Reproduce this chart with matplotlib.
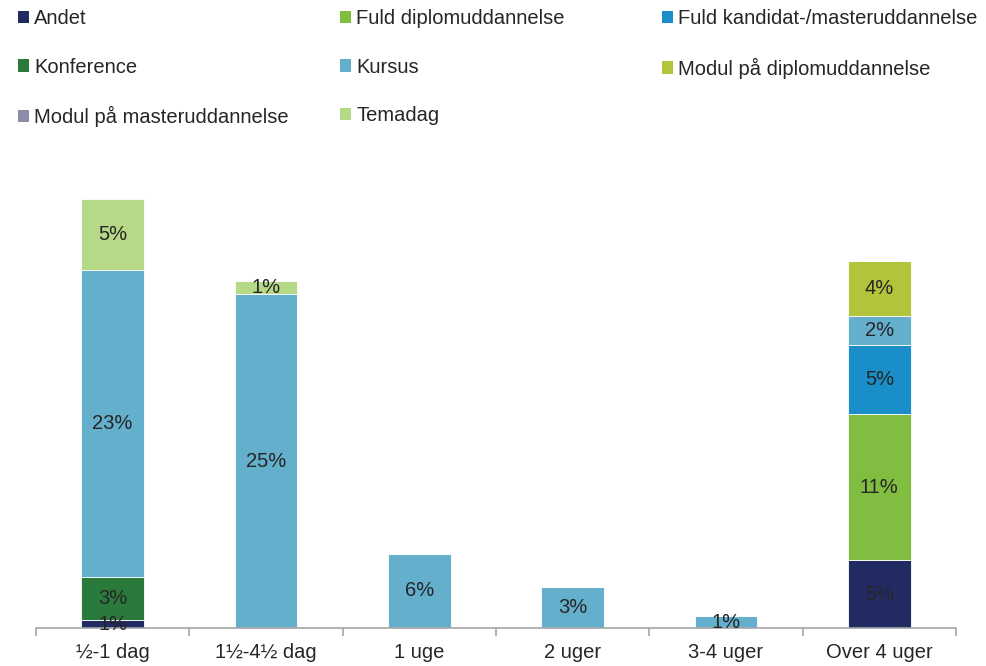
import numpy as np
import matplotlib.pyplot as plt
from matplotlib.patches import Patch

plt.rcParams['font.family'] = ['Liberation Sans', 'DejaVu Sans']

# ---------------------------------------------------------
# Data (andel i %)
# ---------------------------------------------------------
categories = ["½-1 dag", "1½-4½ dag", "1 uge", "2 uger", "3-4 uger", "Over 4 uger"]

series_names = [
    "Andet",
    "Fuld diplomuddannelse",
    "Fuld kandidat-/masteruddannelse",
    "Konference",
    "Kursus",
    "Modul på diplomuddannelse",
    "Modul på masteruddannelse",
    "Temadag",
]

andet = [0.6, 0, 0, 0, 0, 5.1]
fuld_diplom = [0, 0, 0, 0, 0, 11.0]
fuld_kandidat = [0, 0, 0, 0, 0, 5.2]
konference = [3.2, 0, 0, 0, 0, 0]
kursus = [23.1, 25.1, 5.6, 3.1, 0.9, 2.2]
modul_diplom = [0, 0, 0, 0, 0, 4.1]
modul_master = [0, 0, 0, 0, 0, 0]
temadag = [5.4, 1.0, 0, 0, 0, 0]

series_values = [andet, fuld_diplom, fuld_kandidat, konference,
                 kursus, modul_diplom, modul_master, temadag]

colors = ["#222a63", "#80bd41", "#1a8ec8", "#2a7a3c",
          "#63afcc", "#b2c43a", "#8a8da8", "#b5d986"]

FS = 14.5

# ---------------------------------------------------------
# Plot
# ---------------------------------------------------------
fig = plt.figure(figsize=(9.86, 6.66), dpi=100)
ax = fig.add_axes([36 / 986, 1 - 628 / 666, 920 / 986, 448 / 666])

x = np.arange(len(categories))
bottom = np.zeros(len(categories))
for name, vals, col in zip(series_names, series_values, colors):
    vals = np.array(vals, dtype=float)
    bars = ax.bar(x, vals, width=0.41, bottom=bottom, color=col,
                  edgecolor="white", linewidth=0.6, label=name)
    labels = [f"{v:.0f}%" if v > 0 else "" for v in vals]
    ax.bar_label(bars, labels=labels, label_type="center",
                 fontsize=FS, color="#262626")
    bottom += vals

ax.set_xlim(-0.5, len(categories) - 0.5)
ax.set_ylim(0, 33.7)

for s in ["top", "right", "left"]:
    ax.spines[s].set_visible(False)
ax.spines["bottom"].set_color("#a6a6a6")
ax.spines["bottom"].set_linewidth(1.2)

ax.set_yticks([])
ax.set_xticks(x)
ax.set_xticklabels(categories, fontsize=FS, color="#262626")
ax.tick_params(axis="x", which="major", length=0, pad=11)
ax.set_xticks(np.arange(-0.5, len(categories)), minor=True)
ax.tick_params(axis="x", which="minor", length=6, width=1.2, color="#a6a6a6")

# legend in three columns, one legend per column
col_items = [[0, 3, 6], [1, 4, 7], [2, 5]]
col_x = [18 / 986, 340 / 986, 662 / 986]
for items, cx in zip(col_items, col_x):
    handles = [Patch(facecolor=colors[i], edgecolor="none") for i in items]
    names = [series_names[i] for i in items]
    fig.legend(handles, names, loc="upper left", bbox_to_anchor=(cx, 1 - 9 / 666),
               frameon=False, fontsize=FS, handlelength=0.55, handleheight=0.55,
               handletextpad=0.25, labelspacing=1.47, borderpad=0,
               borderaxespad=0, labelcolor="#262626")

plt.savefig("out.png", dpi=100)
